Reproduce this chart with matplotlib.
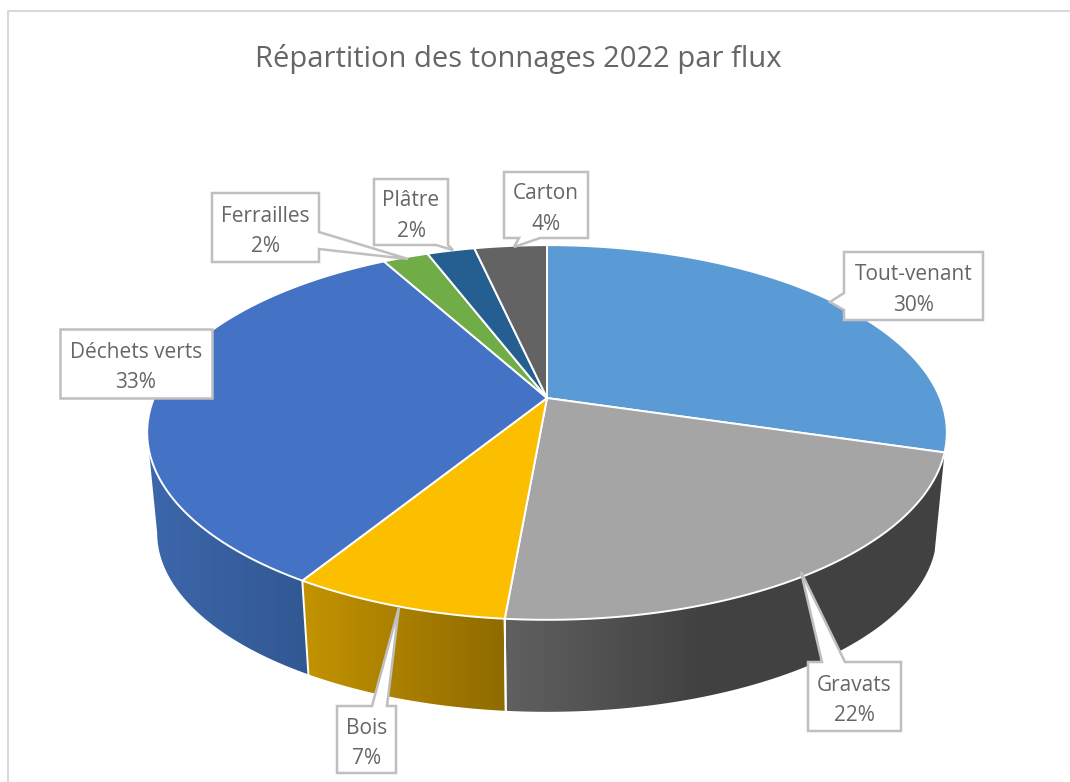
import numpy as np
import matplotlib
matplotlib.use('Agg')
import matplotlib.pyplot as plt
from matplotlib.colors import to_rgb
from matplotlib.patches import Polygon

# Données (parts en %)
flux = ['Tout-venant', 'Gravats', 'Bois', 'Déchets verts', 'Ferrailles', 'Plâtre', 'Carton']
parts = [29.6, 21.8, 7.4, 33.2, 2.2, 2.3, 3.5]
couleurs = ['#5B9BD5', '#A5A5A5', '#FBBF00', '#4472C4', '#70AD47', '#255E91', '#636363']

# Dégradés des côtés : (position relative, couleur)
cotes = {
    'Gravats': [(0, '#606060'), (0.45, '#414141'), (1, '#414141')],
    'Bois': [(0, '#C39300'), (1, '#8F6B00')],
    'Déchets verts': [(0, '#3C67AB'), (1, '#325893')],
}

# Etiquettes : boîte (x0, y0, x1, y1), base de la pointe, pointe
etiquettes = {
    'Tout-venant': ((844, 252, 983, 320), [(844, 310), (844, 293)], (830, 302)),
    'Gravats': ((808, 662, 901, 731), [(845, 662), (822, 662)], (801, 572)),
    'Bois': ((337, 706, 396, 773), [(387, 706), (372, 706)], (399, 607)),
    'Déchets verts': ((60, 329, 212, 398), None, None),
    'Ferrailles': ((212, 193, 319, 262), [(319, 232), (319, 249)], (408, 259)),
    'Plâtre': ((374, 179, 448, 245), [(448, 245), (436, 245)], (453, 250)),
    'Carton': ((504, 172, 588, 238), [(540, 238), (519, 238)], (514, 247)),
}

# Projection du disque (perspective)
cx, cy = 547, 398
A, B, k = 393, 181, 0.184
epaisseur, sx, sy = 102, 0.975, 0.955


def haut(theta):
    # theta en degrés depuis le haut, sens horaire
    t = np.radians(theta)
    u, v = np.sin(t), np.cos(t)
    return cx + A * u / (1 + k * v), cy - B * v / (1 + k * v)


def bas(theta):
    x, y = haut(theta)
    return cx + sx * (x - cx), cy + epaisseur + sy * (y - cy)


fig = plt.figure(figsize=(10.7, 7.82), dpi=100)
ax = fig.add_axes([0, 0, 1, 1])

bornes = np.concatenate([[0], np.cumsum(parts)]) * 360 / sum(parts)
limite = 360 - np.degrees(np.arccos(-k))

# Côtés du camembert
for i, nom in enumerate(flux):
    if nom not in cotes:
        continue
    th = np.linspace(bornes[i], min(bornes[i + 1], limite), 80)
    xh, yh = haut(th)
    xb, yb = bas(th)
    pts = np.column_stack([np.r_[xh, xb[::-1]], np.r_[yh, yb[::-1]]])
    poly = Polygon(pts, closed=True, facecolor='none', edgecolor='none', transform=ax.transData)
    ax.add_patch(poly)
    x0, x1 = pts[:, 0].min(), pts[:, 0].max()
    y0, y1 = pts[:, 1].min(), pts[:, 1].max()
    pos = [p for p, c in cotes[nom]]
    rgb = np.array([to_rgb(c) for p, c in cotes[nom]])
    g = np.linspace(0, 1, 256)
    degrade = np.stack([np.interp(g, pos, rgb[:, j]) for j in range(3)], axis=1)
    im = ax.imshow(degrade[None, :, :], extent=[x0, x1, y1, y0], aspect='auto', zorder=2)
    im.set_clip_path(poly)
    # séparations blanches entre les côtés
    if nom != 'Gravats':
        ax.plot([xh[0], xb[0]], [yh[0], yb[0]], color='white', lw=1.4, zorder=3)
    else:
        ax.plot([xh[-1], xb[-1]], [yh[-1], yb[-1]], color='white', lw=1.4, zorder=3)

# Dessus du camembert
for i, nom in enumerate(flux):
    th = np.linspace(bornes[i], bornes[i + 1], 120)
    x, y = haut(th)
    ax.fill(np.r_[cx, x], np.r_[cy, y], facecolor=couleurs[i], edgecolor='white', lw=1.4,
            joinstyle='round', zorder=4)

# Etiquettes
plt.rcParams['font.family'] = ['Open Sans', 'DejaVu Sans']
for i, nom in enumerate(flux):
    (x0, y0, x1, y1), base, pointe = etiquettes[nom]
    contour = [(x0, y0), (x1, y0), (x1, y1), (x0, y1)]
    if pointe is not None:
        b0, b1 = base
        if b0[0] == b1[0] and b0[0] == x0:
            contour = [(x0, y0), (x1, y0), (x1, y1), (x0, y1), b0, pointe, b1]
        elif b0[0] == b1[0]:
            contour = [(x0, y0), (x1, y0), b0, pointe, b1, (x1, y1), (x0, y1)]
        else:
            contour = [(x0, y0), (x1, y0), (x1, y1), b0, pointe, b1, (x0, y1)]
        if b0[1] == y0:
            contour = [(x0, y0), b1, pointe, b0, (x1, y0), (x1, y1), (x0, y1)]
    ax.add_patch(Polygon(contour, closed=True, facecolor='white', edgecolor='#BFBFBF', lw=1.8,
                         joinstyle='miter', zorder=5))
    ax.text((x0 + x1) / 2, (y0 + y1) / 2 + 4, f'{nom}\n{round(parts[i])}%', ha='center', va='center',
            fontsize=15, color='#666666', linespacing=1.6, zorder=6)

# Titre et cadre
ax.text(518, 59, 'Répartition des tonnages 2022 par flux', ha='center', va='center',
        fontsize=21, color='#666666')
ax.plot([8, 8, 1070], [782, 11, 11], color='#D9D9D9', lw=1.5, zorder=1)

ax.set_xlim(0, 1070)
ax.set_ylim(782, 0)
ax.axis('off')
fig.savefig('out.png', dpi=100)
